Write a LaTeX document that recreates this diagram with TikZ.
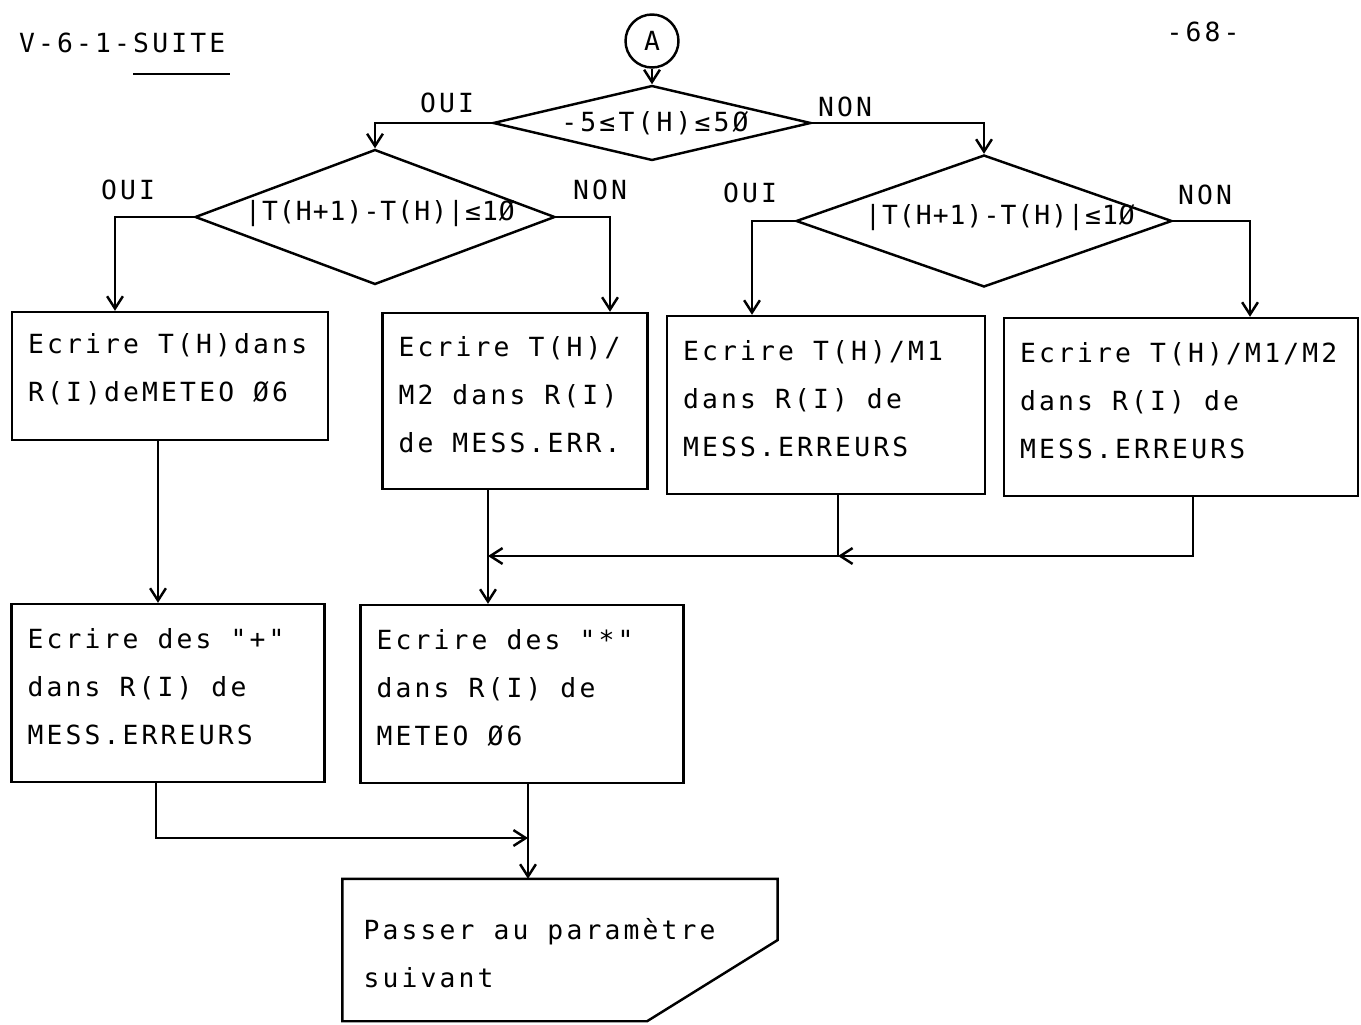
\documentclass[tikz,border=0pt]{standalone}
\usepackage{fontspec}
\newfontfamily\typew[LetterSpace=12]{DejaVu Sans Mono}
\newfontfamily\typewtight[LetterSpace=4]{DejaVu Sans Mono}
\usetikzlibrary{shapes.geometric,arrows.meta,calc}

\begin{document}
\begin{tikzpicture}[x=0.02cm, y=-0.02cm, line width=1.4pt,
    every node/.style={font=\typew\fontsize{15}{27.3}\selectfont},
    box/.style={draw, rectangle, inner sep=0pt},
    decision/.style={draw, diamond, inner sep=0pt},
    test/.style={font=\typewtight\fontsize{15}{18}\selectfont},
    boxtext/.style={label={[anchor=west, inner sep=0pt, xshift=0.32cm, yshift=0.13cm, align=left]west:{#1}}},
    arr/.style={-{Straight Barb[length=7pt, width=9pt]}}]
    \useasboundingbox (0,0) rectangle (1361,1024);
    % heading
    \node[anchor=west] (title) at (12,43) {V-6-1-SUITE};
    \draw (133,74) -- (230,74);
    \node (page) at (1203,32) {-68-};
    % tests
    \node[circle, draw, minimum size=1.06cm, inner sep=0pt] (A) at (652,41) {A};
    \node[decision, minimum width=6.36cm, minimum height=1.5cm,
        label={[xshift=0.06cm]center:-5≤T(H)≤5Ø}] (d1) at (652,123) {};
    \node[decision, minimum width=7.2cm, minimum height=2.7cm,
        label={[test, xshift=0.1cm, yshift=0.06cm]center:|T(H+1)-T(H)|≤1Ø}] (d2) at (375,217) {};
    \node[decision, minimum width=7.52cm, minimum height=2.64cm,
        label={[test, xshift=0.32cm, yshift=0.06cm]center:|T(H+1)-T(H)|≤1Ø}] (d3) at (984,221) {};
    \node (oui1) at (447,103) {OUI};
    \node (non1) at (845,107) {NON};
    \node (oui2) at (128,190) {OUI};
    \node (non2) at (600,190) {NON};
    \node (oui3) at (750,193) {OUI};
    \node (non3) at (1205,195) {NON};
    % actions
    \node[box, minimum width=6.32cm, minimum height=2.56cm,
        boxtext={Ecrire T(H)dans\\R(I)deMETEO Ø6}] (b1) at (170,376) {};
    \node[box, minimum width=5.3cm, minimum height=3.52cm,
        boxtext={Ecrire T(H)/\\M2 dans R(I)\\de MESS.ERR.}] (b2) at (515,401) {};
    \node[box, minimum width=6.36cm, minimum height=3.56cm,
        boxtext={Ecrire T(H)/M1\\dans R(I) de\\MESS.ERREURS}] (b3) at (826,405) {};
    \node[box, minimum width=7.08cm, minimum height=3.56cm,
        boxtext={Ecrire T(H)/M1/M2\\dans R(I) de\\MESS.ERREURS}] (b4) at (1181,407) {};
    \node[box, minimum width=6.26cm, minimum height=3.56cm,
        boxtext={Ecrire des "+"\\dans R(I) de\\MESS.ERREURS}] (b5) at (168,693) {};
    \node[box, minimum width=6.46cm, minimum height=3.56cm,
        boxtext={Ecrire des "*"\\dans R(I) de\\METEO Ø6}] (b6) at (522,694) {};
    \node[minimum width=8.66cm, minimum height=2.8cm, inner sep=0pt,
        label={[anchor=west, inner sep=0pt, xshift=0.4cm, yshift=-0.06cm, align=left]west:{Passer au paramètre\\suivant}}] (pass) at (560,950) {};
    \draw (pass.south west) -- (pass.north west) -- (pass.north east)
        -- ($(pass.north east)!0.43!(pass.south east)$)
        -- ($(pass.south west)!0.70!(pass.south east)$) -- cycle;
    % connectors
    \coordinate (m1) at (488,556);
    \coordinate (m2) at (838,556);
    \coordinate (m3) at (528,838);
    \draw[arr] (A.south) -- (d1.north);
    \draw[arr] (d1.west) -| (d2.north);
    \draw[arr] (d1.east) -| (d3.north);
    \draw[arr] (d2.west) -| (b1.north -| 115,0);
    \draw[arr] (d2.east) -| (b2.north -| 610,0);
    \draw[arr] (d3.west) -| (b3.north -| 752,0);
    \draw[arr] (d3.east) -| (b4.north -| 1250,0);
    \draw[arr] (b1.south -| 158,0) -- (b5.north -| 158,0);
    \draw[arr] (b2.south -| m1) -- (b6.north -| m1);
    \draw[arr] (b3.south -| m2) |- (m1);
    \draw[arr] (b4.south -| 1193,0) |- (m2);
    \draw[arr] (b5.south -| 156,0) |- (m3);
    \draw[arr] (b6.south -| m3) -- (pass.north -| m3);
\end{tikzpicture}
\end{document}
